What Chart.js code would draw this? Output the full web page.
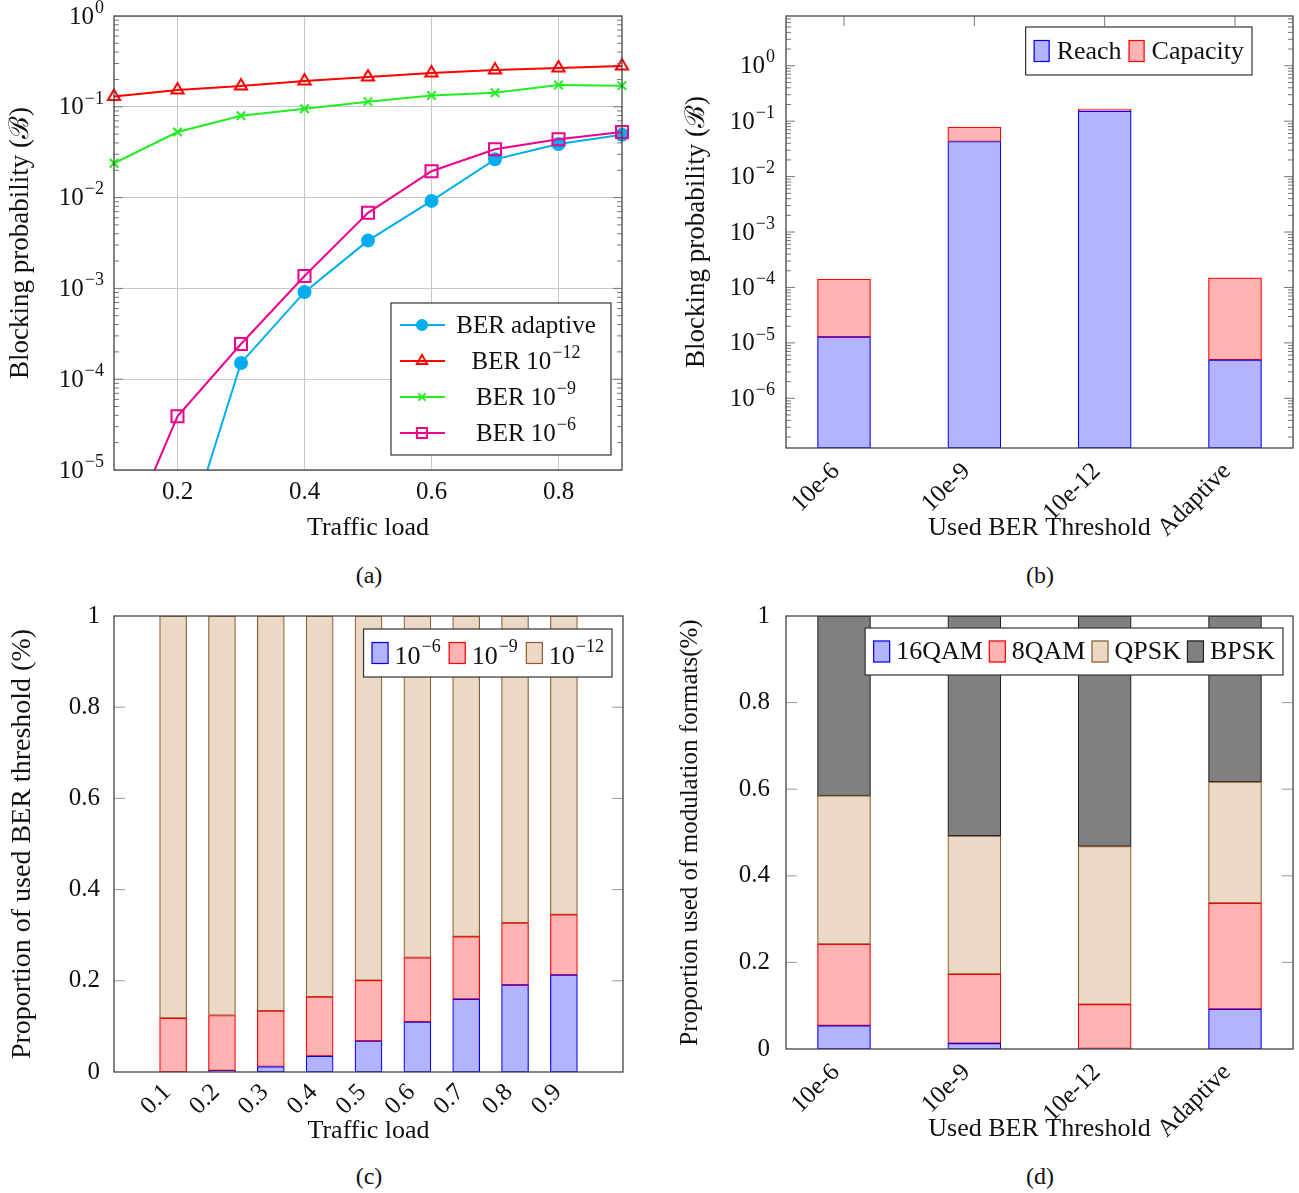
<!DOCTYPE html>
<html>
<head>
<meta charset="utf-8">
<script src="https://cdn.jsdelivr.net/npm/chart.js@4.4.1/dist/chart.umd.min.js"></script>
<style>
  body { margin: 0; background: #fff; width: 1299px; height: 1193px; position: relative; overflow: hidden;
         font-family: "Liberation Serif", "DejaVu Serif", serif; color: #111; }
  .panel { position: absolute; }
  .caption { position: absolute; font-size: 24px; line-height: 28px; transform: translateX(-50%); }
</style>
</head>
<body>
<div class="panel" style="left:0;top:0"><canvas id="chartA" width="650" height="555"></canvas></div>
<div class="panel" style="left:650px;top:0"><canvas id="chartB" width="649" height="555"></canvas></div>
<div class="panel" style="left:0;top:600px"><canvas id="chartC" width="650" height="555"></canvas></div>
<div class="panel" style="left:650px;top:600px"><canvas id="chartD" width="649" height="555"></canvas></div>
<div class="caption" style="left:369px;top:561px">(a)</div>
<div class="caption" style="left:1040px;top:561px">(b)</div>
<div class="caption" style="left:369px;top:1162px">(c)</div>
<div class="caption" style="left:1040px;top:1162px">(d)</div>
<script>
// (a) blocking probability vs traffic load
const loads = [0.1, 0.2, 0.3, 0.4, 0.5, 0.6, 0.7, 0.8, 0.9];
const lineLabels = ['BER adaptive', 'BER 10⁻¹²', 'BER 10⁻⁹', 'BER 10⁻⁶'];
const berAdaptive = [1e-7, 9e-7, 1.51e-4, 9.1e-4, 3.36e-3, 9.2e-3, 0.0264, 0.0389, 0.0493];
const ber12 = [0.130, 0.153, 0.169, 0.192, 0.213, 0.236, 0.254, 0.268, 0.281];
const ber9 = [0.0239, 0.0528, 0.0798, 0.0953, 0.114, 0.133, 0.143, 0.174, 0.171];
const ber6 = [9e-7, 3.9e-5, 2.44e-4, 1.37e-3, 6.8e-3, 0.0195, 0.034, 0.0439, 0.0528];

// (b) blocking split by cause
const thresholds = ['10e-6', '10e-9', '10e-12', 'Adaptive'];
const causeLabels = ['Reach', 'Capacity'];
const reachBlocking = [1.28e-5, 0.0430, 0.152, 4.93e-6];
const capacityBlocking = [1.28e-4, 0.0349, 0.013, 1.44e-4];

// (c) share of used BER threshold
const shareLabels = ['10⁻⁶', '10⁻⁹', '10⁻¹²'];
const shareBer6 = [0, 0.003, 0.012, 0.035, 0.068, 0.110, 0.160, 0.191, 0.213];
const shareBer9 = [0.118, 0.121, 0.122, 0.130, 0.133, 0.141, 0.137, 0.136, 0.132];
const shareBer12 = [0.882, 0.876, 0.866, 0.835, 0.799, 0.749, 0.703, 0.673, 0.655];

// (d) share of modulation formats
const formatLabels = ['16QAM', '8QAM', 'QPSK', 'BPSK'];
const share16qam = [0.054, 0.013, 0.001, 0.092];
const share8qam = [0.188, 0.160, 0.102, 0.245];
const shareQpsk = [0.343, 0.319, 0.365, 0.280];
const shareBpsk = [0.415, 0.508, 0.532, 0.383];

const propTicks = [0, 0.2, 0.4, 0.6, 0.8, 1];

const FAM = '"Liberation Serif", "DejaVu Serif", serif';
Chart.defaults.font.family = FAM;
Chart.defaults.color = '#111';

const tickFont = { size: 25 };
const xTitleFont = { size: 26 };
const SUP = { '-': '⁻', '0': '⁰', '1': '¹', '2': '²', '3': '³', '4': '⁴', '5': '⁵', '6': '⁶', '7': '⁷', '8': '⁸', '9': '⁹' };
const SUP_INV = {};
Object.keys(SUP).forEach(k => { SUP_INV[SUP[k]] = k === '-' ? '−' : k; });
const sup = n => String(n).split('').map(c => SUP[c]).join('');

// "BER 10⁻¹²" -> ["BER 10", "−12"] so the exponent can be drawn raised
function splitPow(label) {
  const chars = [...label];
  const idx = chars.findIndex(c => SUP_INV[c] !== undefined);
  if (idx < 0) return [label, ''];
  return [chars.slice(0, idx).join(''), chars.slice(idx).map(c => SUP_INV[c]).join('')];
}
function powWidth(ctx, label, size) {
  const [b, e] = splitPow(label);
  ctx.font = size + 'px ' + FAM;
  let w = ctx.measureText(b).width;
  if (e) { ctx.font = Math.round(size * 0.7) + 'px ' + FAM; w += ctx.measureText(e).width + 1; }
  return w;
}
function drawPow(ctx, label, x, y, size, align) {
  const [b, e] = splitPow(label);
  const total = powWidth(ctx, label, size);
  const x0 = align === 'right' ? x - total : align === 'center' ? x - total / 2 : x;
  ctx.textAlign = 'left';
  ctx.textBaseline = 'middle';
  ctx.font = size + 'px ' + FAM;
  ctx.fillText(b, x0, y);
  const bw = ctx.measureText(b).width;
  if (e) {
    ctx.font = Math.round(size * 0.7) + 'px ' + FAM;
    ctx.fillText(e, x0 + bw + 1, y - size * 0.36);
  }
  return total;
}

// 1..9 x 10^k ticks inside [min, max]
function logTicks(min, max) {
  const out = [];
  for (let k = Math.floor(Math.log10(min)); k <= Math.ceil(Math.log10(max)); k++) {
    for (let m = 1; m <= 9; m++) {
      const v = m * Math.pow(10, k);
      if (v >= min * 0.999 && v <= max * 1.001) out.push({ value: v, major: m === 1 });
    }
  }
  return out;
}
const decadeLabel = v => {
  const e = Math.log10(v);
  return Math.abs(e - Math.round(e)) < 1e-6 ? '10' + sup(Math.round(e)) : '';
};

// fixed axis size, no extra label overhang padding
const fixWidth = w => s => { s.width = w; s.paddingTop = 0; s.paddingBottom = 0; };
const fixHeight = h => s => { s.height = h; s.paddingLeft = 0; s.paddingRight = 0; };

// frame + inward tick marks (+ power-of-ten labels on log axes)
const frameTicks = {
  id: 'frameTicks',
  afterDatasetsDraw(chart, args, o) {
    const { ctx, chartArea: a } = chart;
    ctx.save();
    ctx.strokeStyle = o.tickColor || '#777';
    ctx.lineWidth = 1;
    if (o.y) {
      const s = chart.scales.y;
      s.ticks.forEach(t => {
        const p = s.getPixelForValue(t.value);
        if (p < a.top + 1 || p > a.bottom - 1) return;
        const len = t.major ? o.y.major : o.y.minor;
        if (!len) return;
        ctx.beginPath();
        ctx.moveTo(a.left, p); ctx.lineTo(a.left + len, p);
        ctx.moveTo(a.right, p); ctx.lineTo(a.right - len, p);
        ctx.stroke();
      });
    }
    if (o.xTop) {
      const s = chart.scales.x;
      s.ticks.forEach(t => {
        const p = s.getPixelForValue(t.value);
        ctx.beginPath();
        ctx.moveTo(p, a.top); ctx.lineTo(p, a.top + o.xTop);
        ctx.stroke();
      });
    }
    ctx.strokeStyle = '#444';
    ctx.lineWidth = 1.3;
    ctx.strokeRect(a.left, a.top, a.right - a.left, a.bottom - a.top);
    if (o.powLabels) {
      const s = chart.scales.y;
      ctx.fillStyle = '#111';
      s.ticks.forEach(t => {
        if (!t.label) return;
        drawPow(ctx, t.label, a.left - o.powLabels.pad, s.getPixelForValue(t.value) + 1, o.powLabels.size, 'right');
      });
    }
    ctx.restore();
  }
};

// boxed legend, anchored by its right edge
const boxLegend = {
  id: 'boxLegend',
  afterDraw(chart, args, o) {
    const ctx = chart.ctx;
    const sets = chart.data.datasets;
    ctx.save();
    let w, h;
    if (o.column) {
      w = o.width;
      h = o.rowH * sets.length + o.pad * 2;
    } else {
      w = o.pad * 2;
      sets.forEach((d, i) => {
        w += o.sw + o.gap + powWidth(ctx, d.label, o.size) + (i < sets.length - 1 ? o.itemGap : 0);
      });
      h = o.height;
    }
    const left = o.right - w, top = o.top;
    ctx.fillStyle = '#fff';
    ctx.fillRect(left, top, w, h);
    ctx.strokeStyle = '#333';
    ctx.lineWidth = 1.2;
    ctx.strokeRect(left, top, w, h);
    if (o.column) {
      sets.forEach((d, i) => {
        const y = top + o.pad + o.rowH * (i + 0.5);
        ctx.strokeStyle = d.borderColor;
        ctx.lineWidth = d.borderWidth;
        ctx.beginPath(); ctx.moveTo(left + 9, y); ctx.lineTo(left + 54, y); ctx.stroke();
        ctx.fillStyle = d.pointBackgroundColor;
        ctx.strokeStyle = d.pointBorderColor;
        ctx.lineWidth = d.pointBorderWidth;
        Chart.helpers.drawPoint(ctx, { pointStyle: d.pointStyle, radius: d.pointRadius * 0.85, borderWidth: d.pointBorderWidth, rotation: 0 }, left + 31, y);
        ctx.fillStyle = '#111';
        drawPow(ctx, d.label, left + o.textX, y + 1, o.size, 'center');
      });
    } else {
      let x = left + o.pad;
      const y = top + h / 2;
      sets.forEach(d => {
        ctx.fillStyle = d.backgroundColor;
        ctx.fillRect(x, y - o.sh / 2, o.sw, o.sh);
        ctx.strokeStyle = d.borderColor;
        ctx.lineWidth = 1.2;
        ctx.strokeRect(x + 0.5, y - o.sh / 2 + 0.5, o.sw - 1, o.sh - 1);
        x += o.sw + o.gap;
        ctx.fillStyle = '#111';
        x += drawPow(ctx, d.label, x, y + (o.textDy || 1), o.size, 'left') + o.itemGap;
      });
    }
    ctx.restore();
  }
};

const base = { responsive: false, animation: false, events: [] };
const noLegend = { legend: { display: false }, tooltip: { enabled: false } };
const propLabel = v => String(v);

// ---------- (a)
const lineSeries = [berAdaptive, ber12, ber9, ber6];
const lineColors = ['#00aeef', '#ff0000', '#22ee22', '#ec008c'];
const lineStyles = ['circle', 'triangle', 'crossRot', 'rect'];
const lineRadius = [6, 7, 6, 8.5];
const lineFill = ['#00aeef', 'rgba(255,255,255,0)', '#22ee22', 'rgba(255,255,255,0)'];
const lineOrder = [3, 2, 1, 0];

new Chart(document.getElementById('chartA'), {
  type: 'line',
  data: {
    datasets: lineSeries.map((s, i) => ({
      label: lineLabels[i],
      data: loads.map((x, j) => ({ x, y: s[j] })),
      borderColor: lineColors[i],
      borderWidth: 2,
      pointStyle: lineStyles[i],
      pointRadius: lineRadius[i],
      pointBackgroundColor: lineFill[i],
      pointBorderColor: lineColors[i],
      pointBorderWidth: 2,
      tension: 0,
      order: lineOrder[i],
      clip: { left: 12, right: 12, top: 12, bottom: 0 }
    }))
  },
  options: {
    ...base,
    layout: { padding: { left: 0, right: 28, top: 16, bottom: 0 } },
    scales: {
      x: {
        type: 'linear', min: 0.1, max: 0.9,
        afterBuildTicks: s => { s.ticks = [0.2, 0.4, 0.6, 0.8].map(v => ({ value: v })); },
        afterFit: fixHeight(85),
        ticks: { font: tickFont, color: '#111', padding: 7, autoSkip: false, maxRotation: 0 },
        grid: { color: '#c8c8c8', drawTicks: false },
        border: { display: false },
        title: { display: true, text: 'Traffic load', font: xTitleFont, color: '#111', padding: { bottom: 11 } }
      },
      y: {
        type: 'logarithmic', min: 1e-5, max: 1,
        afterBuildTicks: s => { s.ticks = logTicks(1e-5, 1); },
        afterFit: fixWidth(114),
        ticks: { display: false, callback: v => decadeLabel(v), autoSkip: false },
        grid: { color: c => (c.tick && c.tick.major) ? '#c8c8c8' : 'rgba(0,0,0,0)', drawTicks: false },
        border: { display: false },
        title: { display: true, text: 'Blocking probability (ℬ)', font: { size: 27 }, color: '#111', padding: { top: 5 } }
      }
    },
    plugins: {
      ...noLegend,
      frameTicks: { y: { major: 9, minor: 5 }, powLabels: { size: 25, pad: 10 } },
      boxLegend: { column: true, right: 611, top: 303, width: 220, rowH: 36, pad: 4, textX: 135, size: 25 }
    }
  },
  plugins: [frameTicks, boxLegend]
});

// ---------- (b)
new Chart(document.getElementById('chartB'), {
  type: 'bar',
  data: {
    datasets: [
      { label: causeLabels[0], data: reachBlocking.map((v, i) => ({ x: i, y: v })), backgroundColor: '#b3b3ff', borderColor: '#0000ff' },
      { label: causeLabels[1], data: capacityBlocking.map((v, i) => ({ x: i, y: v })), backgroundColor: '#ffb3b3', borderColor: '#ff0000' }
    ].map(d => ({ ...d, borderWidth: 1.2, borderSkipped: false, barThickness: 53 }))
  },
  options: {
    ...base,
    layout: { padding: { left: 0, right: 6, top: 16, bottom: 0 } },
    scales: {
      x: {
        type: 'linear', min: -0.445, max: 3.445, stacked: true, offset: false,
        afterBuildTicks: s => { s.ticks = thresholds.map((t, i) => ({ value: i })); },
        afterFit: fixHeight(107),
        ticks: { callback: v => thresholds[v], font: tickFont, color: '#111', padding: 1, labelOffset: -8, autoSkip: false, minRotation: 45, maxRotation: 45 },
        grid: { display: false },
        border: { display: false },
        title: { display: true, text: 'Used BER Threshold', font: xTitleFont, color: '#111', padding: { bottom: 11 } }
      },
      y: {
        type: 'logarithmic', min: 1.27e-7, max: 7.9, stacked: true,
        afterBuildTicks: s => { s.ticks = logTicks(1.27e-7, 7.9); },
        afterFit: fixWidth(136),
        ticks: { display: false, callback: v => decadeLabel(v), autoSkip: false },
        grid: { display: false },
        border: { display: false },
        title: { display: true, text: 'Blocking probability (ℬ)', font: { size: 27 }, color: '#111', padding: { top: 31 } }
      }
    },
    plugins: {
      ...noLegend,
      frameTicks: { y: { major: 9, minor: 5 }, xTop: 10, powLabels: { size: 25, pad: 11 } },
      boxLegend: { right: 602, top: 27, height: 48, pad: 8, sw: 16, sh: 22, gap: 7, itemGap: 7, size: 26 }
    }
  },
  plugins: [frameTicks, boxLegend]
});

// ---------- (c)
const shareSeries = [shareBer6, shareBer9, shareBer12];
const fills = ['#b3b3ff', '#ffb3b3', '#ebd9c6', '#808080'];
const strokes = ['#0000ff', '#ff0000', '#8b5e34', '#222222'];

new Chart(document.getElementById('chartC'), {
  type: 'bar',
  data: {
    datasets: shareSeries.map((s, i) => ({
      label: shareLabels[i],
      data: loads.map((x, j) => ({ x, y: s[j] })),
      backgroundColor: fills[i], borderColor: strokes[i],
      borderWidth: 1.2, borderSkipped: false, barThickness: 27
    }))
  },
  options: {
    ...base,
    layout: { padding: { left: 0, right: 27, top: 16, bottom: 0 } },
    scales: {
      x: {
        type: 'linear', min: -0.021, max: 1.021, stacked: true, offset: false,
        afterBuildTicks: s => { s.ticks = loads.map(v => ({ value: v })); },
        afterFit: fixHeight(83),
        ticks: { callback: v => v.toFixed(1), font: tickFont, color: '#111', padding: -2, labelOffset: -6, autoSkip: false, minRotation: 45, maxRotation: 45 },
        grid: { display: false },
        border: { display: false },
        title: { display: true, text: 'Traffic load', font: xTitleFont, color: '#111', padding: { bottom: 8 } }
      },
      y: {
        type: 'linear', min: 0, max: 1, stacked: true,
        afterBuildTicks: s => { s.ticks = propTicks.map(v => ({ value: v, major: true })); },
        afterFit: fixWidth(114),
        ticks: { callback: propLabel, font: tickFont, color: '#111', padding: 6, autoSkip: false },
        grid: { display: false },
        border: { display: false },
        title: { display: true, text: 'Proportion of used BER threshold (%)', font: { size: 28 }, color: '#111', padding: { top: 6 } }
      }
    },
    plugins: {
      ...noLegend,
      frameTicks: { y: { major: 11, minor: 0 }, tickColor: '#999' },
      boxLegend: { right: 612, top: 29, height: 48, pad: 8, sw: 17, sh: 22, gap: 6, itemGap: 8, size: 26, textDy: 4 }
    }
  },
  plugins: [frameTicks, boxLegend]
});

// ---------- (d)
const formatSeries = [share16qam, share8qam, shareQpsk, shareBpsk];

new Chart(document.getElementById('chartD'), {
  type: 'bar',
  data: {
    datasets: formatSeries.map((s, i) => ({
      label: formatLabels[i],
      data: s.map((v, j) => ({ x: j, y: v })),
      backgroundColor: fills[i], borderColor: strokes[i],
      borderWidth: 1.2, borderSkipped: false, barThickness: 53
    }))
  },
  options: {
    ...base,
    layout: { padding: { left: 0, right: 6, top: 16, bottom: 0 } },
    scales: {
      x: {
        type: 'linear', min: -0.445, max: 3.445, stacked: true, offset: false,
        afterBuildTicks: s => { s.ticks = thresholds.map((t, i) => ({ value: i })); },
        afterFit: fixHeight(106),
        ticks: { callback: v => thresholds[v], font: tickFont, color: '#111', padding: 1, labelOffset: -8, autoSkip: false, minRotation: 45, maxRotation: 45 },
        grid: { display: false },
        border: { display: false },
        title: { display: true, text: 'Used BER Threshold', font: xTitleFont, color: '#111', padding: { bottom: 10 } }
      },
      y: {
        type: 'linear', min: 0, max: 1, stacked: true,
        afterBuildTicks: s => { s.ticks = propTicks.map(v => ({ value: v, major: true })); },
        afterFit: fixWidth(136),
        ticks: { callback: propLabel, font: tickFont, color: '#111', padding: 8, autoSkip: false },
        grid: { display: false },
        border: { display: false },
        title: { display: true, text: 'Proportion used of modulation formats(%)', font: { size: 25 }, color: '#111', padding: { top: 25 } }
      }
    },
    plugins: {
      ...noLegend,
      frameTicks: { y: { major: 11, minor: 0 }, tickColor: '#999' },
      boxLegend: { right: 633, top: 28, height: 47, pad: 8, sw: 17, sh: 22, gap: 6, itemGap: 6, size: 26 }
    }
  },
  plugins: [frameTicks, boxLegend]
});
</script>
</body>
</html>
